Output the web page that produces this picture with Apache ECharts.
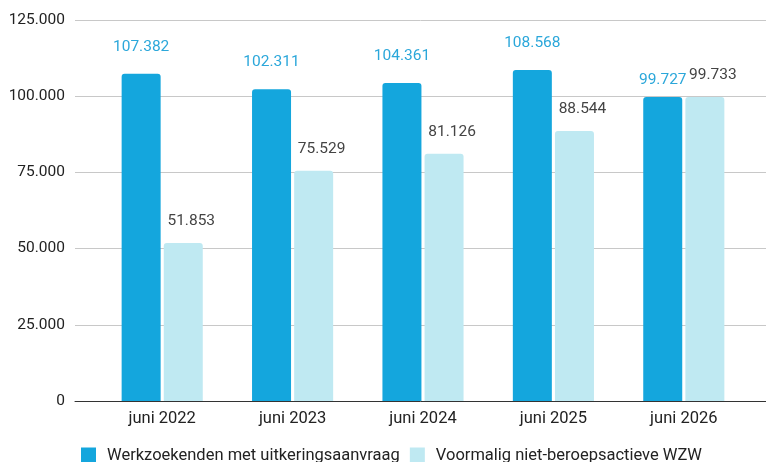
<!DOCTYPE html>
<html><head><meta charset="utf-8">
<script src="https://cdn.jsdelivr.net/npm/echarts@6/dist/echarts.min.js"></script>
<style>html,body{margin:0;padding:0;background:#fff}#c{width:766px;height:462px}</style>
</head><body><div id="c"></div>
<script>
const categories = ['juni 2022','juni 2023','juni 2024','juni 2025','juni 2026'];
const werkzoekenden = [107382, 102311, 104361, 108568, 99727];
const voormalig = [51853, 75529, 81126, 88544, 99733];
const seriesNames = ['Werkzoekenden met uitkeringsaanvraag','Voormalig niet-beroepsactieve WZW'];
const yTicks = [0, 25000, 50000, 75000, 100000, 125000];

function fmt(v){ return String(v).replace(/\B(?=(\d{3})+(?!\d))/g, '.'); }
const FONT = 'Roboto';
const chart = echarts.init(document.getElementById('c'));
const darkData = werkzoekenden.map((v,i)=> i===4 ? {value:v,label:{offset:[0,10]}} : v);
chart.setOption({
  animation:false,
  textStyle:{fontFamily:FONT},
  grid:[
    {left:75,right:0,top:20,bottom:61},
    {left:97,right:17,top:20,bottom:61}
  ],
  legend:{
    data:seriesNames, left:76, top:442, icon:'rect', itemWidth:15, itemHeight:16, itemGap:10,
    textStyle:{fontFamily:FONT,fontSize:16.5,color:'#222',padding:[0,0,0,6]}
  },
  xAxis:[
    {gridIndex:0,type:'category',data:categories,axisLabel:{show:false},axisTick:{show:false},
     axisLine:{lineStyle:{color:'#333',width:1}}},
    {gridIndex:1,type:'category',data:categories,axisTick:{show:false},axisLine:{show:false},
     axisLabel:{fontFamily:FONT,fontSize:16.5,color:'#222',margin:9}}
  ],
  yAxis:[
    {gridIndex:0,type:'value',min:yTicks[0],max:yTicks[yTicks.length-1],interval:25000,
     axisLabel:{fontFamily:FONT,fontSize:15.5,color:'#222',margin:10,formatter:fmt},
     splitLine:{lineStyle:{color:'#c8c8c8'}},axisLine:{show:false},axisTick:{show:false}},
    {gridIndex:1,type:'value',min:yTicks[0],max:yTicks[yTicks.length-1],interval:25000,show:false,
     splitLine:{show:false}}
  ],
  series:[
    {name:seriesNames[0],type:'bar',xAxisIndex:1,yAxisIndex:1,data:darkData,barWidth:39,barGap:'8%',
     itemStyle:{color:'#14a6dd',borderRadius:[3,3,0,0]},
     label:{show:true,position:'top',distance:19,fontFamily:FONT,fontSize:15.5,color:'#2ba7da',formatter:p=>fmt(p.value)}},
    {name:seriesNames[1],type:'bar',xAxisIndex:1,yAxisIndex:1,data:voormalig,barWidth:39,barGap:'8%',
     itemStyle:{color:'#bfe9f2',borderRadius:[3,3,0,0]},
     label:{show:true,position:'top',distance:14,offset:[8,0],fontFamily:FONT,fontSize:15.5,color:'#444',formatter:p=>fmt(p.value)}}
  ]
});
</script></body></html>
